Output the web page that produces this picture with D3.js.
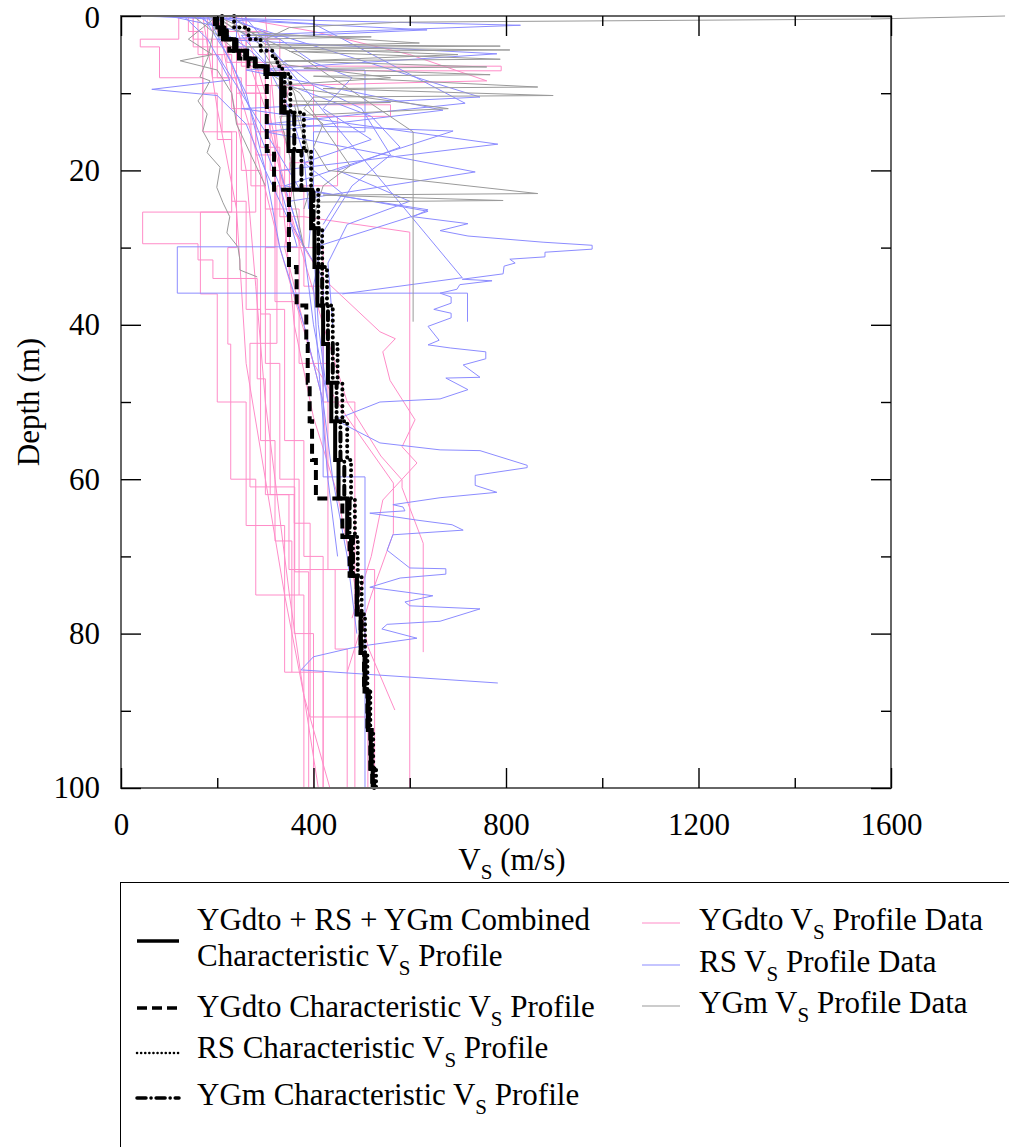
<!DOCTYPE html>
<html>
<head>
<meta charset="utf-8">
<script src="https://cdn.jsdelivr.net/npm/d3@7"></script>
<style>
body { margin: 0; background: #fff; }
</style>
</head>
<body>
<div id="chart"></div>
<script>
// ---- data: each profile is a list of [Vs (m/s), depth (m)] ----
var ygdto01 = [[150,0],[150,3],[200,3],[200,8],[240,8],[240,14],[280,14],[280,25.4],[45,25.4],[45,29.5],[160,29.5],[160,31.6],[191,31.6],[191,34],[283,34],[283,47],[300,47],[300,62],[360,62],[360,80],[400,80],[400,100]];
var ygdto02 = [[210,0],[210,4],[260,4],[260,10],[290,10],[290,17],[330,17],[330,26],[380,26],[600,28],[600,100]];
var ygdto03 = [[230,0],[260,5],[300,12],[330,20],[360,28],[420,34],[538,40.9],[570,41.8],[544,43.5],[559,47.2],[611,52.3],[584,55.8],[615,57.9],[544,62.7],[520,70],[480,78]];
var ygdto04 = [[250,0],[300,10],[350,25],[420,40],[470,50],[540,57],[584,60.1],[584,61.1],[628,68.3],[628,82.4]];
var ygdto05 = [[200,0],[270,15],[330,30],[400,45],[470,52],[566,60.5],[566,67],[520,75],[470,85]];
var ygdto06 = [[300,0],[330,20],[360,40],[400,52],[450,62],[490,75],[513,81.7],[569,89.9]];
var ygdto07 = [[180,0],[180,5],[230,5],[230,12],[270,12],[270,22],[300,22],[300,38],[340,38],[340,55],[380,55],[380,70],[420,70],[420,100]];
var ygdto08 = [[260,0],[260,6],[300,6],[300,15],[340,15],[340,22],[324,22],[324,42.4],[268,42.4],[268,61],[361,61],[361,72],[390,72],[390,100]];
var ygdto09 = [[190,0],[190,8],[250,8],[250,20],[290,20],[290,38.6],[310,38.6],[310,62],[349,62],[349,71.7],[445,71.7],[445,82],[470,82],[470,100]];
var ygdto10 = [[220,0],[220,6],[280,6],[280,18],[320,18],[320,37],[360,37],[360,65.7],[393,65.7],[393,90.8],[513,90.8],[513,100]];
var ygdto11 = [[140,0],[140,2],[170,2],[170,10],[200,10],[200,16],[230,16],[230,25.4],[165,25.4],[165,36],[200,36],[200,50],[260,50],[260,66],[340,66],[340,85],[420,85],[420,100]];
var ygdto12 = [[220,0],[400,2],[600,5],[760,8.4],[350,9],[330,14],[360,20],[340,30],[380,40],[420,50],[430,60]];
var ygdto13 = [[150,0],[150,4],[250,4],[250,6.5],[790,6.5],[790,7.1],[280,7.1],[280,15],[320,15],[320,30],[300,30],[300,45],[330,45],[330,60],[370,60],[370,75]];
var ygdto14 = [[120,0],[120,3],[40,3],[40,4],[80,4],[80,8],[170,8],[170,15],[230,15],[230,24],[260,24],[260,38],[290,38],[290,55],[320,55],[320,68],[355,68],[355,85]];
var ygdto15 = [[260,0],[260,9],[310,9],[310,20],[350,20],[350,30],[420,30],[420,50],[486,50],[486,100]];
var ygdto16 = [[240,0],[240,10],[300,10],[300,25],[370,25],[370,45],[430,45],[430,71.7],[527,71.7],[527,100]];
var ygdto17 = [[200,0],[230,10],[260,20],[280,35],[300,50],[320,60],[350,75],[380,88],[434,100]];
var ygdto18 = [[170,0],[200,12],[240,25],[260,45],[300,60],[340,75],[380,88],[410,100]];
var ygdto19 = [[160,0],[160,5],[210,5],[210,15],[240,15],[240,30],[222,30],[222,42.5],[228,42.5],[228,60],[280,60],[280,75],[380,75],[380,100]];
var ygdto20 = [[200,0],[200,2],[300,2],[300,9],[400,9],[400,13],[450,13],[450,22],[380,22],[380,35],[420,35],[420,48]];
var ygdto21 = [[240,0],[240,3],[330,3],[330,11.5],[560,11.5],[560,13],[400,13],[400,19],[350,19],[350,28]];

var rs01 = [[200,5],[300,15],[372,22.5],[638,25.1],[607,26.0],[721,26.9],[663,27.8],[721,28.5],[877,29.3],[979,29.7],[979,30.2],[881,30.6],[881,31.2],[808,31.5],[819,32.0],[796,32.4],[794,33.4],[709,34.1],[771,34.3],[704,34.8],[698,35.4],[663,35.9],[686,36.4],[686,37.2],[650,38.0],[686,38.5],[686,39.1],[638,40.2],[661,42.0],[638,42.6],[684,43.0],[758,43.5],[758,44.4],[711,45.2],[746,46.8],[675,46.9],[721,48.4],[663,49.6],[538,50.0],[445,52.3],[538,55.3],[663,56.2],[746,56.3],[844,58.2],[844,58.5],[736,59.5],[736,60.8],[781,61.7],[663,62.4],[565,63.3],[586,63.6],[590,64.1],[517,64.4],[615,65.3],[688,65.9],[711,66.6],[565,67.2],[553,69.2],[600,71.5],[675,71.6],[675,72.3],[580,72.8],[517,74.0],[648,75.1],[590,75.9],[600,76.4],[746,76.8],[663,78.4],[553,78.8],[542,79.4],[615,80.6],[513,81.5],[476,81.9],[400,83.0],[374,84.7],[783,86.4]];
var rs02 = [[170,0],[230,6],[280,14],[330,22],[366,29.9],[117,29.9],[117,35.9],[720,35.9],[720,39.6]];
var rs03 = [[130,0],[180,3],[226,8.3],[64,9.5],[200,10.3],[260,14],[300,20],[330,30],[380,40],[420,50],[440,60],[470,70],[490,80]];
var rs04 = [[180,0],[220,5],[260,10],[300,20],[345,26],[420,34],[420,59.7],[507,59.7],[507,100]];
var rs05 = [[60,0],[636,1.8],[200,3],[781,4.9],[260,7],[669,12.2],[300,15],[736,20.2],[350,24],[380,30]];
var rs06 = [[200,0],[746,10.5],[250,12],[783,16.6],[330,20],[380,30],[400,40],[430,50]];
var rs07 = [[150,0],[400,1],[715,11.3],[300,14],[690,14.9],[340,22],[638,25.3],[400,30],[410,40],[430,50]];
var rs08 = [[20,0],[830,1.2],[250,2.5],[300,6],[350,12],[380,18],[390,25]];
var rs09 = [[256,0],[709,33.9],[460,36]];
var rs10 = [[240,0],[240,4],[300,4],[300,7],[507,7],[507,15],[400,15],[400,22],[390,30]];
var rs11 = [[100,0],[250,2],[320,5],[400,9],[500,12],[560,18],[480,22],[420,28],[400,35],[410,45],[430,60],[450,70]];
var rs12 = [[160,0],[260,4],[350,9],[520,13],[580,17],[450,20],[600,24],[470,27],[430,32],[440,40]];
var rs13 = [[220,0],[330,3],[400,6],[480,8],[420,12],[520,16],[380,19],[460,23],[420,27]];

var ygm01 = [[199,0],[191,2.3],[181,5.3],[164,7.9],[185,8.4],[170,10.1],[160,11.0],[179,12.7],[170,14.9],[185,16.6],[179,17.7],[206,19.6],[199,22.2],[212,24.2],[226,26.0],[220,28.1],[243,29.9],[247,31.6],[247,32.9],[283,33.8]];
var ygm02 = [[230,0],[260,1.5],[300,3.7],[788,3.9],[330,4.1],[808,4.4],[350,4.6],[788,5.6],[340,5.8],[760,6.6],[380,6.8],[767,7.6],[400,7.8],[866,9.2],[420,9.4],[898,10.3],[400,10.5],[380,12],[420,14],[400,17],[430,20],[866,23.0],[420,23.2],[794,23.9],[410,24.1],[400,26]];
var ygm03 = [[200,0],[372,5.2],[607,15],[607,39.6]];
var ygm04 = [[1837,0],[1556,0.4],[580,0.8],[350,1.5],[300,3],[330,6],[360,10],[380,15],[400,20]];
var ygm05 = [[200,0],[240,2],[620,3.5],[260,4],[700,5],[300,6],[560,8],[320,9],[680,12],[330,13],[350,18],[360,24],[380,30]];
var ygm06 = [[200,0],[140,3],[190,5],[123,5.8],[200,7],[230,10],[240,14],[270,18],[300,22]];
var ygm07 = [[150,0],[250,5],[372,10],[476,19.4],[420,22],[400,26]];
var ygm08 = [[180,0],[220,1],[260,2.5],[520,2.7],[280,3],[300,5],[330,8],[350,11],[560,11.2],[360,11.5],[380,16],[400,21],[380,25]];

var ygdtoData = [ygdto01, ygdto02, ygdto03, ygdto04, ygdto05, ygdto06, ygdto07, ygdto08, ygdto09, ygdto10,
                 ygdto11, ygdto12, ygdto13, ygdto14, ygdto15, ygdto16, ygdto17, ygdto18, ygdto19, ygdto20, ygdto21];
var rsData = [rs01, rs02, rs03, rs04, rs05, rs06, rs07, rs08, rs09, rs10, rs11, rs12, rs13];
var ygmData = [ygm01, ygm02, ygm03, ygm04, ygm05, ygm06, ygm07, ygm08];

// characteristic profiles: layer boundaries and one Vs per layer
var charDepth = [0,1.5,3,4.5,5.5,6.5,7.5,12.5,17.5,22.5,27.5,32.5,37.5,42.5,47.5,52.5,57.5,62.5,67.5,72.5,77.5,82.5,87.5,92.5,97.5,100];
var charCombined = [200,212,235,258,278,305,333,348,358,395,402,408,420,430,437,445,452,470,478,490,498,506,513,519,523];
var charYGdto    = [195,205,225,245,265,303,303,303,318,349,349,365,385,388,392,397,405,460,475,490,498,505,512,518,522];
var charRS       = [235,265,290,315,325,335,352,380,395,410,418,428,440,450,460,470,478,486,492,500,507,512,518,524,530];
var charYGm      = [210,220,240,262,280,300,340,360,375,400,410,418,430,440,448,456,464,475,482,492,500,508,515,521,526];

var xMajor = [0,400,800,1200,1600];
var xMinor = [200,600,1000,1400];
var yMajor = [0,20,40,60,80,100];
var yMinor = [10,30,50,70,90];

var leftLegend = [["YGdto + RS + YGm Combined", "Characteristic ", " Profile"],
                  ["YGdto Characteristic ", " Profile"],
                  ["RS Characteristic ", " Profile"],
                  ["YGm Characteristic ", " Profile"]];
var rightLegend = [["YGdto ", " Profile Data"], ["RS ", " Profile Data"], ["YGm ", " Profile Data"]];

// ---- drawing ----
var width = 1009, height = 1147;
var pink = "#ff8cc8", blue = "#8c8cff", grey = "#9a9a9a";
var fs = 31;
var serif = "Liberation Serif, Times New Roman, Tinos, Noto Serif, FreeSerif, DejaVu Serif, Georgia, serif";

var svg = d3.select("#chart").append("svg")
	.attr("width", width)
	.attr("height", height)
	.style("font-family", serif);

var x = d3.scaleLinear().domain([0, 1600]).range([121, 891]);
var y = d3.scaleLinear().domain([0, 100]).range([16, 788]);

var line = d3.line()
	.x(function (d) { return x(d[0]); })
	.y(function (d) { return y(d[1]); });

function drawSet(list, col) {
	list.forEach(function (p) {
		svg.append("path")
			.attr("d", line(p))
			.attr("fill", "none")
			.attr("stroke", col)
			.attr("stroke-width", 1);
	});
}

drawSet(ygdtoData, pink);
drawSet(rsData, blue);
drawSet(ygmData, grey);

function steps(vals) {
	var pts = [];
	for (var i = 0; i < vals.length; i++) {
		pts.push([vals[i], charDepth[i]]);
		pts.push([vals[i], charDepth[i + 1]]);
	}
	return pts;
}

var styles = {
	solid:   { dash: null, cap: "butt" },
	dashed:  { dash: "10,5", cap: "butt" },
	dotted:  { dash: "0.1,5.5", cap: "round" },
	dashdot: { dash: "9,5,0.1,5", cap: "round" }
};

function charLine(vals, st) {
	svg.append("path")
		.attr("d", line(steps(vals)))
		.attr("fill", "none")
		.attr("stroke", "#000")
		.attr("stroke-width", 4)
		.attr("stroke-dasharray", styles[st].dash)
		.attr("stroke-linecap", styles[st].cap);
}

charLine(charCombined, "solid");
charLine(charYGm, "dashdot");
charLine(charYGdto, "dashed");
charLine(charRS, "dotted");

// frame
svg.append("rect")
	.attr("x", 121).attr("y", 16)
	.attr("width", 770).attr("height", 772)
	.attr("fill", "none")
	.attr("stroke", "#666")
	.attr("stroke-width", 2);

function axisStyle(g) {
	g.select(".domain").remove();
	g.attr("font-family", null).attr("font-size", fs);
	g.selectAll(".tick line").attr("stroke", "#000").attr("stroke-width", 1.4);
	g.selectAll(".tick text").attr("fill", "#000");
}

svg.append("g").attr("transform", "translate(0,788)")
	.call(d3.axisBottom(x).tickValues(xMajor).tickSizeInner(-20).tickSizeOuter(0).tickPadding(25).tickFormat(d3.format("d")))
	.call(axisStyle);
svg.append("g").attr("transform", "translate(0,788)")
	.call(d3.axisBottom(x).tickValues(xMinor).tickSizeInner(-10).tickSizeOuter(0).tickFormat(""))
	.call(axisStyle);
svg.append("g").attr("transform", "translate(0,16)")
	.call(d3.axisTop(x).tickValues(xMajor).tickSizeInner(-20).tickSizeOuter(0).tickFormat(""))
	.call(axisStyle);
svg.append("g").attr("transform", "translate(0,16)")
	.call(d3.axisTop(x).tickValues(xMinor).tickSizeInner(-10).tickSizeOuter(0).tickFormat(""))
	.call(axisStyle);
var gl = svg.append("g").attr("transform", "translate(121,0)")
	.call(d3.axisLeft(y).tickValues(yMajor).tickSizeInner(-20).tickSizeOuter(0).tickPadding(21).tickFormat(d3.format("d")))
	.call(axisStyle);
// the top "0" sits against the page edge, nudge it down a little
gl.selectAll(".tick text").filter(function (d) { return d == 0; }).attr("dy", "0.36em");
svg.append("g").attr("transform", "translate(121,0)")
	.call(d3.axisLeft(y).tickValues(yMinor).tickSizeInner(-10).tickSizeOuter(0).tickFormat(""))
	.call(axisStyle);
svg.append("g").attr("transform", "translate(891,0)")
	.call(d3.axisRight(y).tickValues(yMajor).tickSizeInner(-20).tickSizeOuter(0).tickFormat(""))
	.call(axisStyle);
svg.append("g").attr("transform", "translate(891,0)")
	.call(d3.axisRight(y).tickValues(yMinor).tickSizeInner(-10).tickSizeOuter(0).tickFormat(""))
	.call(axisStyle);

// text with V_S subscript
function vsText(px, py, before, after, anchor) {
	var t = svg.append("text")
		.attr("x", px).attr("y", py)
		.attr("font-size", fs)
		.attr("text-anchor", anchor || "start");
	t.append("tspan").text(before + "V");
	t.append("tspan").attr("font-size", 21).attr("dy", 9).text("S");
	t.append("tspan").attr("dy", -9).text(after);
	return t;
}

vsText(512, 870, "", " (m/s)", "middle");

svg.append("text")
	.attr("transform", "translate(39,402) rotate(-90)")
	.attr("text-anchor", "middle")
	.attr("font-size", fs)
	.text("Depth (m)");

// legend
svg.append("rect")
	.attr("x", 120.5).attr("y", 882.5)
	.attr("width", 1000).attr("height", 400)
	.attr("fill", "none")
	.attr("stroke", "#000")
	.attr("stroke-width", 1);

var legStyles = ["solid", "dashed", "dotted", "dashdot"];
var legLineY = [941, 1008, 1053, 1098];
var legTextY = [930, 1017, 1058, 1105];

legStyles.forEach(function (st, i) {
	svg.append("line")
		.attr("x1", 137).attr("x2", 179)
		.attr("y1", legLineY[i]).attr("y2", legLineY[i])
		.attr("stroke", "#000")
		.attr("stroke-width", st == "dotted" ? 2.5 : 3.5)
		.attr("stroke-dasharray", st == "dotted" ? "0.1,4" : styles[st].dash)
		.attr("stroke-linecap", styles[st].cap);
	var lab = leftLegend[i];
	if (lab.length == 3) {
		svg.append("text").attr("x", 197).attr("y", legTextY[i]).attr("font-size", fs).text(lab[0]);
		vsText(197, 966, lab[1], lab[2]);
	} else {
		vsText(197, legTextY[i], lab[0], lab[1]);
	}
});

var rCols = [pink, blue, grey];
var rLineY = [923, 965, 1006];
var rTextY = [930, 972, 1013];
rCols.forEach(function (c, i) {
	svg.append("line")
		.attr("x1", 642).attr("x2", 680)
		.attr("y1", rLineY[i]).attr("y2", rLineY[i])
		.attr("stroke", c)
		.attr("stroke-width", 1.2);
	vsText(699, rTextY[i], rightLegend[i][0], rightLegend[i][1]);
});
</script>
</body>
</html>
